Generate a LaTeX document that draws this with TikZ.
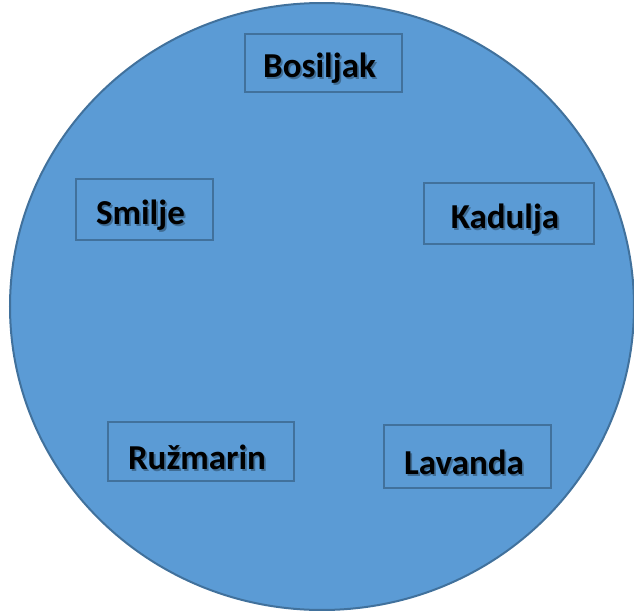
\documentclass[tikz,border=0pt]{standalone}
\usepackage{fontspec}
\setmainfont{Carlito}
\usepackage{tikz}
\usetikzlibrary{positioning}

\definecolor{krug}{HTML}{5B9BD5}
\definecolor{rub}{HTML}{41719C}

\begin{document}
\begin{tikzpicture}[x=0.5pt, y=-0.5pt,
    okvir/.style={draw=rub, line width=1pt, inner sep=0pt},
    natpis/.style={font=\bfseries\fontsize{17.5}{21}\selectfont, text=black, inner sep=0pt,
        xshift=-2pt, yshift=-2.8pt},
    sjena/.style={natpis, opacity=0.3, xshift=0.9pt, yshift=-0.9pt}]

    % Okvir slike
    \useasboundingbox (0,0) rectangle (634,611);

    % Krug
    \def\Rx{312}
    \def\Ry{303.5}
    \fill[krug] (322,306.5) ellipse ({\Rx} and {\Ry});
    \draw[rub, line width=1pt] (322,306.5) ellipse ({\Rx} and {\Ry});

    % Okviri
    \node[okvir, minimum width=78.5pt, minimum height=29pt] (bosiljak) at (323.5,63) {};
    \node[okvir, minimum width=68.5pt, minimum height=30.5pt] (smilje) at (144.5,209.5) {};
    \node[okvir, minimum width=85pt, minimum height=30.5pt] (kadulja) at (509,213.5) {};
    \node[okvir, minimum width=93pt, minimum height=29.5pt] (ruzmarin) at (201,451.5) {};
    \node[okvir, minimum width=83.5pt, minimum height=31.5pt] (lavanda) at (468,456.5) {};

    % Sjene natpisa
    \node[sjena] (bosiljak-s) at (bosiljak) {Bosiljak};
    \node[sjena] (smilje-s) at (smilje) {Smilje};
    \node[sjena] (kadulja-s) at (kadulja) {Kadulja};
    \node[sjena] (ruzmarin-s) at (ruzmarin) {Ružmarin};
    \node[sjena] (lavanda-s) at (lavanda) {Lavanda};

    % Natpisi
    \node[natpis] (bosiljak-t) at (bosiljak) {Bosiljak};
    \node[natpis] (smilje-t) at (smilje) {Smilje};
    \node[natpis] (kadulja-t) at (kadulja) {Kadulja};
    \node[natpis] (ruzmarin-t) at (ruzmarin) {Ružmarin};
    \node[natpis] (lavanda-t) at (lavanda) {Lavanda};

\end{tikzpicture}
\end{document}
